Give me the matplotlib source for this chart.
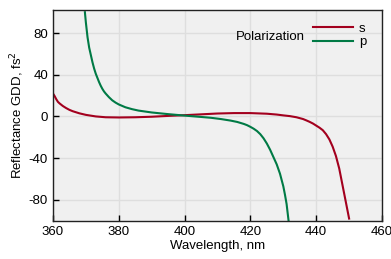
import matplotlib.pyplot as plt

# wavelength (nm) and GDD (fs^2)
wl_s = [360, 360.5, 361, 361.5, 362, 363, 364, 365, 366, 368, 370, 373, 376,
        380, 385, 390, 395, 400, 405, 410, 415, 420, 425, 428, 430, 432, 434,
        436, 437, 438, 439, 440, 441, 442, 443, 444, 445, 446, 447, 448, 449, 450]
gdd_s = [22, 19.5, 16.5, 14, 12.5, 10, 8, 6.3, 5, 3, 1.5, 0, -0.8,
         -1, -0.8, -0.3, 0.5, 1.2, 2, 2.8, 3.2, 3.2, 2.6, 1.8, 1, 0.3, -0.8,
         -2.5, -3.8, -5.2, -6.8, -8.8, -10.8, -13.2, -17, -22, -29, -38, -50,
         -66, -82, -98]

wl_p = [369.7, 370, 370.5, 371, 371.5, 372, 372.5, 373, 373.5, 374, 374.5, 375,
        375.5, 376, 377, 378, 379, 380, 382, 384, 386, 390, 395, 400, 405, 408,
        411, 414, 416, 418, 419, 420, 421, 422, 423, 424, 425, 426, 427, 428,
        429, 430, 430.5, 431, 431.6]
gdd_p = [100, 90, 76, 66, 59, 52, 46, 41, 37, 33, 29.5, 26.5,
         24, 22, 18.5, 15.5, 13.3, 11.5, 8.8, 7, 5.6, 3.8, 2.2, 0.8, -0.5, -1.3,
         -2.5, -4, -5.3, -7.2, -8.4, -10, -11.8, -14, -17, -21, -26, -32, -39, -46,
         -55, -67, -75, -84, -100]

x_ticks = [360, 380, 400, 420, 440, 460]
y_ticks = [-80, -40, 0, 40, 80]

plt.rcParams['font.family'] = ['Liberation Sans', 'DejaVu Sans']
plt.rcParams['font.size'] = 9.5
plt.rcParams['axes.unicode_minus'] = False

fig = plt.figure(figsize=(3.91, 2.59), dpi=100)
ax = fig.add_axes([0.1355, 0.148, 0.8415, 0.813])
ax.set_facecolor('#f0f0f0')

ax.plot(wl_s, gdd_s, color='#a3001e', lw=1.5, label='s')
ax.plot(wl_p, gdd_p, color='#007a45', lw=1.5, label='p')

ax.set_xlim(360, 460)
ax.set_ylim(-100, 102)
ax.set_xticks(x_ticks)
ax.set_yticks(y_ticks)
ax.grid(True, color='#dedede', lw=1)
ax.set_axisbelow(True)
ax.tick_params(direction='in', length=4, width=1, colors='black', labelsize=9.5)
for sp in ax.spines.values():
    sp.set_color('#222222')
    sp.set_linewidth(1)

ax.set_xlabel('Wavelength, nm', labelpad=2)
ax.set_ylabel('Reflectance GDD, fs$^2$', labelpad=2)

leg = ax.legend(loc='upper left', bbox_to_anchor=(0.762, 0.985), frameon=False,
                handlelength=3.0, handletextpad=0.5, labelspacing=0.1,
                borderaxespad=0.3, fontsize=9.5)
ax.text(0.555, 0.87, 'Polarization', transform=ax.transAxes, fontsize=9.5,
        va='center', ha='left')

fig.savefig('out.png', dpi=100)
